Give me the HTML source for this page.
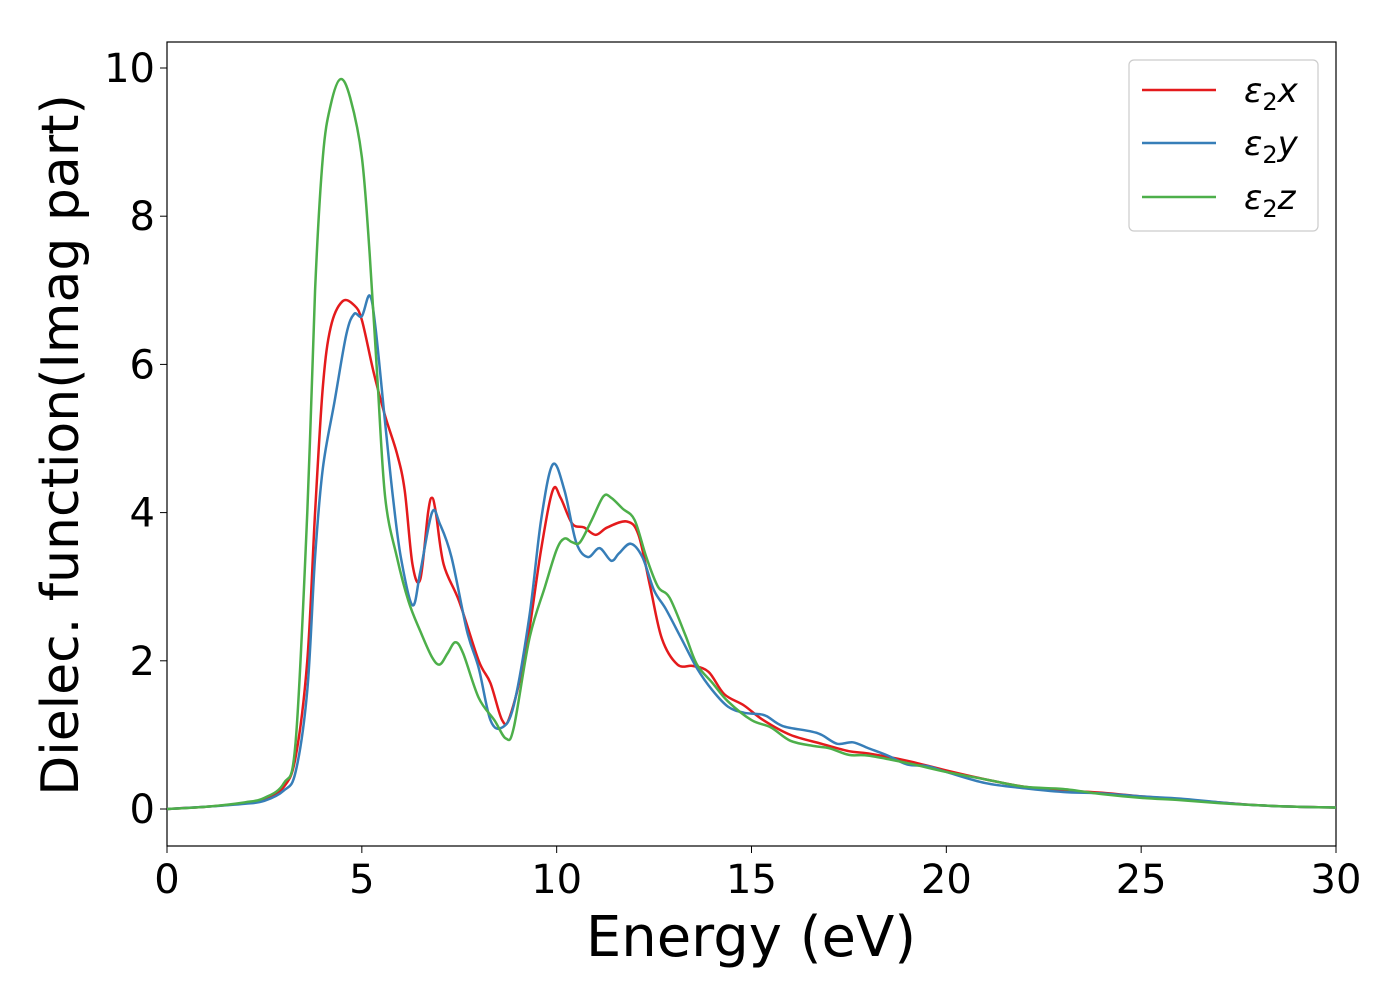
<!DOCTYPE html>
<html><head><meta charset="utf-8"><style>
body{margin:0;background:#fff;}
svg text{font-family:"DejaVu Sans","Liberation Sans",sans-serif;fill:#000;}
</style></head><body>
<svg id="chart" width="1400" height="1000" viewBox="0 0 1400 1000" xmlns="http://www.w3.org/2000/svg">
<rect x="167" y="42" width="1169" height="804" fill="#fff" stroke="#000" stroke-width="1.2"/>
<g id="xticks"></g>
<g id="yticks"></g>
<g id="series"></g>
<text x="751" y="956" font-size="56" text-anchor="middle">Energy (eV)</text>
<text transform="translate(78,445) rotate(-90)" font-size="52" text-anchor="middle">Dielec. function(Imag part)</text>
<g>
<rect x="1129" y="60" width="189" height="171" rx="5" fill="#fff" stroke="#ccc" stroke-width="1.2"/>
<g><line x1="1142" y1="90" x2="1216" y2="90" stroke="#e41a1c" stroke-width="2.5"/><text x="1244" y="102" font-size="34" font-style="italic">ε<tspan font-style="normal" font-size="24" dy="8">2</tspan><tspan dy="-8">x</tspan></text></g>
<g><line x1="1142" y1="143" x2="1216" y2="143" stroke="#377eb8" stroke-width="2.5"/><text x="1244" y="155" font-size="34" font-style="italic">ε<tspan font-style="normal" font-size="24" dy="8">2</tspan><tspan dy="-8">y</tspan></text></g>
<g><line x1="1142" y1="197" x2="1216" y2="197" stroke="#4daf4a" stroke-width="2.5"/><text x="1244" y="209" font-size="34" font-style="italic">ε<tspan font-style="normal" font-size="24" dy="8">2</tspan><tspan dy="-8">z</tspan></text></g>
</g>
</svg>
<script>
const xTicks=[0,5,10,15,20,25,30];
const yTicks=[0,2,4,6,8,10];
const seriesNames=["eps2x","eps2y","eps2z"];
const seriesColors=["#e41a1c","#377eb8","#4daf4a"];
const energyX=[0,1,2,2.5,3,3.3,3.6,3.8,4.0,4.2,4.5,4.8,5.0,5.3,5.6,5.9,6.1,6.3,6.5,6.7,6.8,6.9,7.1,7.5,8.0,8.3,8.6,8.8,9.2,9.6,9.9,10.1,10.4,10.7,11.0,11.3,11.8,12.1,12.4,12.7,13.1,13.5,13.9,14.3,14.8,15.3,16,16.8,17.5,18,19,20,21,22,23,24,25,26,27,28,29,30];
const valuesX=[0,0.03,0.08,0.13,0.3,0.7,2.0,4.0,5.7,6.5,6.85,6.8,6.6,5.9,5.3,4.8,4.3,3.3,3.1,4.0,4.2,4.0,3.3,2.8,2.0,1.7,1.2,1.25,2.1,3.5,4.3,4.2,3.85,3.8,3.7,3.8,3.88,3.7,3.0,2.3,1.95,1.93,1.85,1.55,1.4,1.2,1.0,0.88,0.78,0.75,0.65,0.52,0.4,0.3,0.25,0.22,0.17,0.13,0.09,0.05,0.03,0.02];
const energyY=[0,1,2,2.5,3,3.3,3.6,3.8,4.0,4.3,4.6,4.8,5.0,5.2,5.35,5.6,5.8,6.0,6.3,6.5,6.8,7.0,7.3,7.7,8.0,8.3,8.6,8.9,9.3,9.6,9.9,10.2,10.5,10.8,11.1,11.4,11.6,11.9,12.2,12.5,12.8,13.2,13.6,14.0,14.4,14.8,15.2,15.4,15.8,16.5,16.8,17.2,17.6,18,18.5,19,19.5,20,21,22,23,24,25,26,27,28,29,30];
const valuesY=[0,0.03,0.07,0.11,0.25,0.5,1.6,3.4,4.6,5.5,6.4,6.68,6.65,6.93,6.5,5.2,4.2,3.4,2.75,3.2,4.0,3.85,3.4,2.4,1.9,1.2,1.1,1.4,2.6,3.9,4.65,4.3,3.6,3.4,3.52,3.35,3.45,3.58,3.4,2.95,2.7,2.3,1.9,1.6,1.38,1.3,1.28,1.25,1.12,1.05,1.0,0.88,0.9,0.82,0.72,0.6,0.58,0.5,0.35,0.28,0.23,0.21,0.17,0.14,0.09,0.05,0.03,0.02];
const energyZ=[0,1,2,2.5,3,3.3,3.6,3.8,4.0,4.2,4.45,4.7,5.0,5.2,5.4,5.6,5.9,6.2,6.5,6.8,7.0,7.2,7.4,7.6,8.0,8.4,8.7,8.9,9.3,9.7,10.0,10.2,10.4,10.6,10.9,11.2,11.4,11.7,12.0,12.3,12.6,12.9,13.3,13.6,14.0,14.4,15,15.5,16,16.6,17,17.5,18,19,20,21,22,23,24,25,26,27,28,29,30];
const valuesZ=[0,0.03,0.09,0.15,0.35,0.9,4.0,7.0,8.8,9.5,9.85,9.6,8.8,7.5,5.8,4.2,3.4,2.8,2.4,2.05,1.95,2.1,2.25,2.1,1.5,1.2,0.95,1.1,2.3,3.0,3.5,3.65,3.6,3.6,3.9,4.22,4.2,4.05,3.9,3.4,3.0,2.85,2.35,1.95,1.7,1.45,1.2,1.1,0.92,0.85,0.82,0.73,0.72,0.62,0.5,0.4,0.3,0.27,0.2,0.15,0.12,0.08,0.05,0.03,0.02];
const NS="http://www.w3.org/2000/svg";
const xs=v=>167+v*(1169/30);
const ys=v=>809-v*74.1;
const xg=document.getElementById('xticks'),yg=document.getElementById('yticks'),sg=document.getElementById('series');
xTicks.forEach(t=>{
 const l=document.createElementNS(NS,'line');l.setAttribute('x1',xs(t));l.setAttribute('x2',xs(t));l.setAttribute('y1',846);l.setAttribute('y2',853);l.setAttribute('stroke','#000');
 
 
 xg.appendChild(l);
 const tx=document.createElementNS(NS,'text');tx.setAttribute('x',xs(t));tx.setAttribute('y',893);tx.setAttribute('font-size','40');tx.setAttribute('text-anchor','middle');tx.textContent=t;
 
 
 xg.appendChild(tx);
});
yTicks.forEach(t=>{
 const l=document.createElementNS(NS,'line');l.setAttribute('x1',160);l.setAttribute('x2',167);l.setAttribute('y1',ys(t));l.setAttribute('y2',ys(t));l.setAttribute('stroke','#000');
 
 
 yg.appendChild(l);
 const tx=document.createElementNS(NS,'text');tx.setAttribute('x',155);tx.setAttribute('y',ys(t)+14);tx.setAttribute('font-size','40');tx.setAttribute('text-anchor','end');tx.textContent=t;
 
 
 yg.appendChild(tx);
});
function pathFor(ex,vals){
 const p=ex.map((e,i)=>[xs(e),ys(vals[i])]);
 let d='M'+p[0][0]+','+p[0][1];
 for(let i=0;i<p.length-1;i++){
  const p0=p[Math.max(0,i-1)],p1=p[i],p2=p[i+1],p3=p[Math.min(p.length-1,i+2)];
  const c1=[p1[0]+(p2[0]-p0[0])/6,p1[1]+(p2[1]-p0[1])/6];
  const c2=[p2[0]-(p3[0]-p1[0])/6,p2[1]-(p3[1]-p1[1])/6];
  d+=' C'+c1[0]+','+c1[1]+' '+c2[0]+','+c2[1]+' '+p2[0]+','+p2[1];
 }
 return d;
}
const allE=[energyX,energyY,energyZ],allV=[valuesX,valuesY,valuesZ];
[0,1,2].forEach(k=>{
 const pa=document.createElementNS(NS,'path');
 pa.setAttribute('d',pathFor(allE[k],allV[k]));
 pa.setAttribute('fill','none');pa.setAttribute('stroke',seriesColors[k]);pa.setAttribute('stroke-width','2.5');
 
 
 sg.appendChild(pa);
});
</script>
</body></html>
